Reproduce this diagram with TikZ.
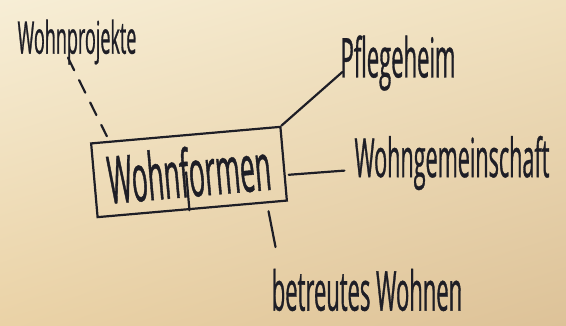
\documentclass[tikz,border=0pt]{standalone}
\usepackage{fontspec}
\newfontfamily\hand[FakeStretch=0.4, FakeBold=0.6]{Open Sans}
\usetikzlibrary{calc,shadings}
\definecolor{ink}{HTML}{1E1E26}
\definecolor{paperA}{HTML}{F7EED6}
\definecolor{paperB}{HTML}{F0E0BE}
\definecolor{paperC}{HTML}{EAD2A6}
\definecolor{paperD}{HTML}{DDC298}
\begin{document}
\begin{tikzpicture}
        [x=1pt, y=-1pt,
        word/.style={font=\hand\fontsize{#1}{#1}\selectfont, text=ink, inner sep=2pt},
        link/.style={draw=ink, line width=2.2pt, line cap=round},
        frame/.style={draw=ink, line width=2.2pt, rotate=5, minimum width=190pt, minimum height=74pt, inner sep=0pt}]
        \shade[upper left=paperA, upper right=paperB, lower left=paperC, lower right=paperD] (0,0) rectangle (566,326);
        \useasboundingbox (0,0) rectangle (566,326);

        \node[frame, word=66] (wf) at (189,172) {Wohnformen};
        \node[word=45] (proj) at (77,42) {Wohnprojekte};
        \node[word=55] (pfl) at (398,63) {Pflegeheim};
        \node[word=54] (wg) at (452,163) {Wohngemeinschaft};
        \node[word=55] (bw) at (367,290) {betreutes Wohnen};

        \draw[link] ($(wf.south west)!0.485!(wf.south east)$) -- ($(wf.west)!0.485!(wf.east)$);% divider
        \draw[link, dash pattern=on 14pt off 11pt, shorten >=5pt] ($(proj.south)+(-9,-9)$) -- ($(wf.north west)!0.1!(wf.north east)$);
        \draw[link] (wf.north east) -- ($(pfl.west)+(4,9)$);
        \draw[link, shorten <=3pt, shorten >=8pt] ($(wf.north east)!0.65!(wf.south east)$) -- ($(wg.west)+(0,7)$);
        \draw[link, shorten <=8pt, shorten >=20pt] ($(wf.south west)!0.89!(wf.south east)$) -- ($(bw.north west)!0.05!(bw.north east)$);
    
    \end{tikzpicture}
\end{document}
